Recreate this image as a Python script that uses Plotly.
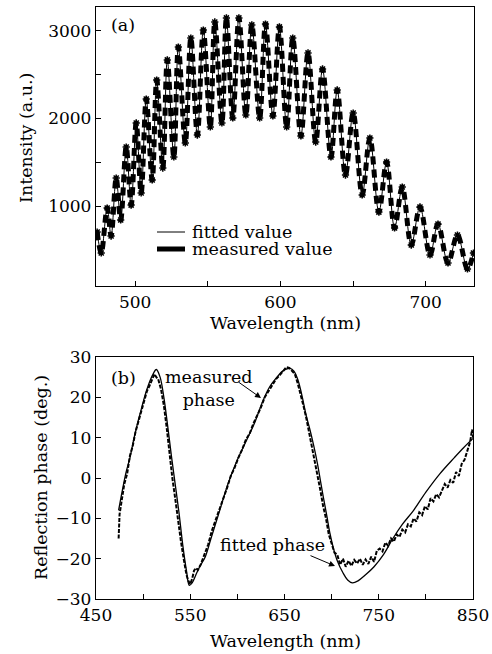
import plotly.graph_objects as go

# ---------------- Panel (a): intensity spectrum (peaks/valleys of fringes) ----------------
wl_a = [473.8, 476.6, 480.7, 483.4, 486.9, 490.0, 493.8, 497.2, 500.7, 504.1,
        507.6, 511.7, 514.8, 519.0, 522.1, 526.6, 529.7, 534.5, 538.3, 542.8,
        546.9, 551.7, 554.8, 559.7, 562.8, 567.2, 571.4, 576.2, 580.3, 585.7,
        589.7, 594.8, 599.3, 604.3, 608.5, 614.1, 619.0, 624.3, 629.0, 634.8,
        639.1, 644.8, 650.1, 656.3, 661.6, 667.8, 673.1, 678.6, 683.9, 690.1,
        696.1, 703.0, 708.5, 715.4, 721.9, 728.8, 732.9]
intensity_a = [703, 463, 977, 657, 1320, 840, 1674, 1011, 1949, 1149,
               2223, 1297, 2440, 1434, 2669, 1560, 2817, 1720, 2920, 1811,
               3011, 1903, 3103, 1949, 3149, 2006, 3149, 2040, 3069, 2006,
               3080, 2029, 3046, 1903, 2920, 1800, 2749, 1731, 2566, 1560,
               2326, 1354, 2063, 1126, 1777, 931, 1503, 749, 1217, 554,
               989, 440, 794, 349, 669, 280, 463]
ticks_a_x = [500, 550, 600, 650, 700]
labels_a_x = ["500", "", "600", "", "700"]
ticks_a_y = [1000, 1500, 2000, 2500, 3000]
labels_a_y = ["1000", "", "2000", "", "3000"]

# ---------------- Panel (b): reflection phase ----------------
wl_fit_b = [474, 478, 482, 486, 490, 494, 498, 502, 506, 510, 514, 518, 522, 526,
            530, 534, 538, 542, 546, 549, 552, 556, 560, 566, 572, 580, 590, 600,
            610, 618, 626, 634, 642, 648, 652, 656, 660, 664, 668, 673, 677, 681,
            685, 688, 691, 695, 698, 702, 706, 712, 717, 722, 728, 736, 745, 755,
            765, 775, 787, 800, 815, 830, 840, 850]
phase_fit_b = [-8, -3, 1.5, 5, 9.5, 13.5, 17, 20.5, 23.3, 25.5, 26.9, 25, 20, 13,
               5.5, -1.5, -8.5, -16.5, -23, -26.6, -26, -24, -22, -19.5, -15, -9, -1.5, 4.5,
               9.5, 13.5, 18.5, 22.5, 25, 26.5, 27, 27.2, 26.5, 24.5, 21, 15.5, 12, 8,
               3.5, -0.5, -4.5, -9.5, -13.5, -17.5, -20.5, -23.5, -25.3, -26, -25.5, -24, -22, -19,
               -15, -11.5, -8, -3.5, 1.1, 5, 7.5, 9.8]

wl_meas_b = [474, 475, 477, 480, 483, 486, 489, 492, 495, 498, 501, 504, 507, 510,
             512, 514, 516, 519, 522, 525, 528, 531, 534, 537, 540, 543, 546, 548,
             550, 552, 554, 556, 558, 561, 565, 569, 573, 577, 581, 585, 589, 593,
             597, 601, 605, 609, 613, 617, 621, 625, 629, 633, 637, 641, 645, 649,
             652, 655, 658, 661, 664, 667, 670, 673, 676, 679, 682, 685, 688, 691,
             694, 697, 700, 703, 706, 709, 712, 715, 718, 721, 724, 727, 730, 733,
             736, 739, 742, 745, 748, 751, 754, 757, 760, 763, 766, 769, 772, 775,
             778, 781, 784, 787, 790, 793, 796, 799, 802, 805, 808, 811, 814, 817,
             820, 823, 826, 829, 832, 835, 838, 841, 844, 847, 849, 850]
phase_meas_b = [-15, -9, -6, -1.5, 1, 5.5, 8, 11.5, 14, 16.5, 19.5, 21.5, 23, 24.5,
                25.8, 25, 24.5, 22, 18, 12.5, 6, 0, -5, -10.5, -15.5, -20, -24, -25.5,
                -26.3, -25, -23, -22.3, -22.8, -21.5, -19, -16.5, -13, -10.5, -8, -5, -2.5, 0.5,
                2.5, 5, 7, 9.5, 11, 13.5, 15.5, 17.5, 20, 21.5, 23, 24.5, 25.5, 26.5,
                27.5, 27.3, 26.5, 25.8, 23.5, 21, 18, 15, 11.5, 8, 4.5, 0.5, -3, -7,
                -10, -14, -16.5, -18.5, -19, -21.5, -20, -22, -20.5, -21.8, -20.3, -21.2, -20, -21.5,
                -20.2, -21.3, -19.5, -20.8, -18, -17.5, -18.2, -16, -16.8, -15, -15.8, -14, -14.6, -12.8,
                -13.5, -11.5, -12, -10, -10.8, -8.5, -9.2, -7, -7.8, -5, -5.8, -4, -4.8, -3,
                -1.5, -2.4, -0.5, -1.2, 1.5, 0.5, 3.5, 4.5, 7, 9, 12, 10]
ticks_b_x = [450, 500, 550, 600, 650, 700, 750, 800, 850]
labels_b_x = ["450", "", "550", "", "650", "", "750", "", "850"]
ticks_b_y = [-30, -20, -10, 0, 10, 20, 30]
labels_b_y = ["\u221230", "\u221220", "\u221210", "0", "10", "20", "30"]

FONT = "DejaVu Serif"
W, H = 492, 654


def px(x):
    return x / W


def py(y):
    return 1 - y / H


fig = go.Figure()

# measured value: thick dashes along the fringes
fig.add_trace(go.Scatter(x=wl_a, y=intensity_a, mode="lines", xaxis="x", yaxis="y",
                         line=dict(color="black", width=5, dash="8px,5px", shape="spline"),
                         showlegend=False, hoverinfo="skip"))
# fitted value: thin line
fig.add_trace(go.Scatter(x=wl_a, y=intensity_a, mode="lines", xaxis="x", yaxis="y",
                         line=dict(color="black", width=1, shape="spline"),
                         showlegend=False))
# markers at fringe extrema
fig.add_trace(go.Scatter(x=wl_a, y=intensity_a, mode="markers", xaxis="x", yaxis="y",
                         marker=dict(symbol="asterisk-open", size=6, color="black",
                                     line=dict(color="black", width=1.5)),
                         showlegend=False))

# panel (b)
fig.add_trace(go.Scatter(x=wl_fit_b, y=phase_fit_b, mode="lines", xaxis="x2", yaxis="y2",
                         line=dict(color="black", width=1.3, shape="spline"),
                         showlegend=False))
fig.add_trace(go.Scatter(x=wl_meas_b, y=phase_meas_b, mode="lines", xaxis="x2", yaxis="y2",
                         line=dict(color="black", width=2, dash="4px,1.5px"),
                         showlegend=False))

axis_common = dict(showline=True, mirror=True, linecolor="black", linewidth=1.3,
                   ticks="inside", ticklen=5, tickwidth=1, tickcolor="black",
                   showgrid=False, zeroline=False, automargin=False,
                   tickfont=dict(family=FONT, size=17, color="black"))

fig.update_layout(
    width=W, height=H, autosize=False,
    margin=dict(l=0, r=0, t=0, b=0, pad=0),
    paper_bgcolor="white", plot_bgcolor="white",
    showlegend=False,
    xaxis=dict(domain=[px(96), px(474)], anchor="y", range=[473, 733.3],
               tickmode="array", tickvals=ticks_a_x, ticktext=labels_a_x, **axis_common),
    yaxis=dict(domain=[py(286), py(7)], anchor="x", range=[86, 3274],
               tickmode="array", tickvals=ticks_a_y, ticktext=labels_a_y, **axis_common),
    xaxis2=dict(domain=[px(96), px(473)], anchor="y2", range=[450, 850],
                tickmode="array", tickvals=ticks_b_x, ticktext=labels_b_x, **axis_common),
    yaxis2=dict(domain=[py(599), py(357)], anchor="x2", range=[-30, 30],
                tickmode="array", tickvals=ticks_b_y, ticktext=labels_b_y, **axis_common),
)

tf = dict(family=FONT, size=17.5, color="black")
ann = [
    dict(text="Wavelength (nm)", x=px(285), y=py(323)),
    dict(text="Intensity (a.u.)", x=px(26), y=py(138), textangle=-90),
    dict(text="Wavelength (nm)", x=px(285), y=py(641)),
    dict(text="Reflection phase (deg.)", x=px(41), y=py(478), textangle=-90),
    dict(text="(a)", x=px(123), y=py(25)),
    dict(text="(b)", x=px(123), y=py(378)),
    dict(text="measured<br>phase", x=px(209), y=py(388), align="center"),
    dict(text="fitted phase", x=px(272), y=py(545)),
    dict(text="fitted value", x=px(191), y=py(232), xanchor="left"),
    dict(text="measured value", x=px(191), y=py(249), xanchor="left"),
]
for a in ann:
    a.setdefault("xanchor", "center")
    fig.add_annotation(xref="paper", yref="paper", yanchor="middle", showarrow=False,
                       font=tf, borderpad=0, **a)

# arrows pointing to curves in (b)
fig.add_annotation(xref="paper", yref="paper", x=px(261), y=py(398), ax=-24, ay=-17,
                   text="", showarrow=True, arrowhead=2, arrowsize=1.2, arrowwidth=1,
                   arrowcolor="black")
fig.add_annotation(xref="paper", yref="paper", x=px(335), y=py(566), ax=-26, ay=-11,
                   text="", showarrow=True, arrowhead=2, arrowsize=1.2, arrowwidth=1,
                   arrowcolor="black")

# legend samples in (a)
fig.add_shape(type="line", xref="paper", yref="paper", x0=px(157), x1=px(185),
              y0=py(232), y1=py(232), line=dict(color="black", width=1))
fig.add_shape(type="line", xref="paper", yref="paper", x0=px(157), x1=px(185),
              y0=py(249), y1=py(249), line=dict(color="black", width=5))

fig.write_html("out.html", config={"displayModeBar": False},
               post_script="document.body.style.margin='0px';document.body.style.padding='0px';")
